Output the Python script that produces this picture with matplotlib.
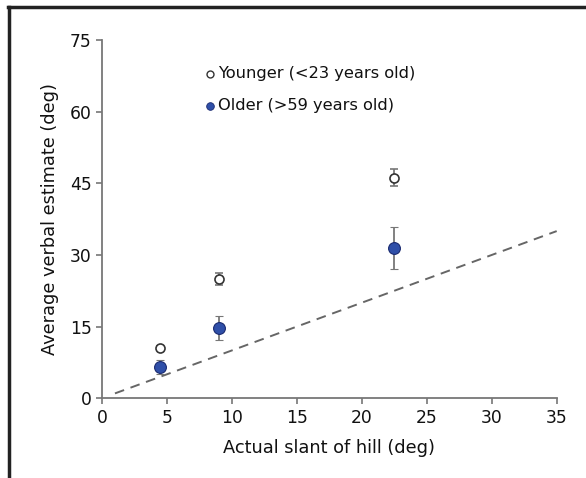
import matplotlib
matplotlib.use("Agg")
import matplotlib.pyplot as plt
from matplotlib.lines import Line2D

slant = [4.5, 9, 22.5]
younger = [10.5, 25.0, 46.2]
younger_err = [0.5, 1.3, 1.8]
older = [6.5, 14.7, 31.5]
older_err = [1.5, 2.6, 4.4]
ref_x = [1, 35]
ref_y = [1, 35]
xticks = [0, 5, 10, 15, 20, 25, 30, 35]
yticks = [0, 15, 30, 45, 60, 75]

plt.rcParams['font.family'] = ['DejaVu Sans']
fig = plt.figure(figsize=(5.86, 4.78), dpi=100)
ax = fig.add_axes([0.174, 0.167, 0.776, 0.749])

ax.plot(ref_x, ref_y, ls=(0, (5, 3.5)), color='#666666', lw=1.4, zorder=1)
ax.errorbar(slant, younger, yerr=younger_err, fmt='o', mfc='white', mec='#333333',
            mew=1.2, ms=6.5, ecolor='#777777', elinewidth=1.3, capsize=3, zorder=3)
ax.errorbar(slant, older, yerr=older_err, fmt='o', mfc='#2f4fa8', mec='#1a2a70',
            mew=0.8, ms=8.5, ecolor='#777777', elinewidth=1.3, capsize=3, zorder=3)

ax.plot([8.3], [68], 'o', mfc='white', mec='#333333', mew=1.0, ms=5)
ax.text(8.9, 68, 'Younger (<23 years old)', va='center', ha='left', fontsize=11.7,
        color='#111111')
ax.plot([8.3], [61.3], 'o', mfc='#2f4fa8', mec='#1a2a70', mew=0.6, ms=5.5)
ax.text(8.9, 61.3, 'Older (>59 years old)', va='center', ha='left', fontsize=11.7,
        color='#111111')

ax.set_xlim(0, 35)
ax.set_ylim(0, 75)
ax.set_xticks(xticks)
ax.set_yticks(yticks)
for s in ['top', 'right']:
    ax.spines[s].set_visible(False)
for s in ['left', 'bottom']:
    ax.spines[s].set_color('#777777')
    ax.spines[s].set_linewidth(1.3)
ax.tick_params(direction='out', length=4, width=1.2, color='#777777', labelsize=12.3,
               labelcolor='#111111')
ax.set_xlabel('Actual slant of hill (deg)', fontsize=12.8, color='#111111', labelpad=9)
ax.set_ylabel('Average verbal estimate (deg)', fontsize=12.8, color='#111111', labelpad=8)

fig.add_artist(Line2D([0.016, 0.016], [0.0, 0.986], transform=fig.transFigure,
                      color='#222222', lw=2.5))
fig.add_artist(Line2D([0.014, 1.0], [0.986, 0.986], transform=fig.transFigure,
                      color='#222222', lw=2.5))

fig.savefig('out.png', dpi=100)
